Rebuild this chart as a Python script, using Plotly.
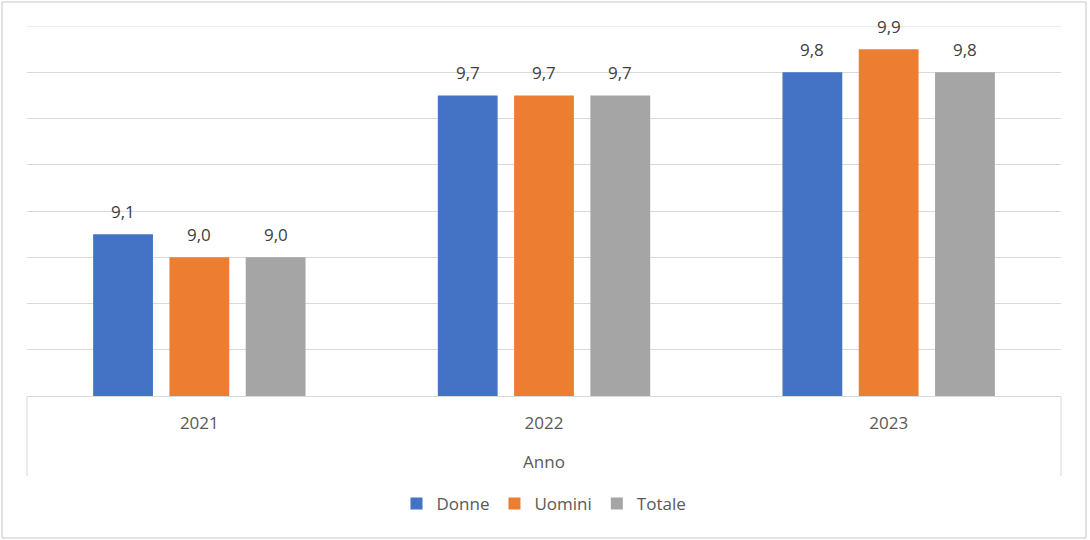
import plotly.graph_objects as go

categories = ["2021", "2022", "2023"]
donne = [9.1, 9.7, 9.8]
uomini = [9.0, 9.7, 9.9]
totale = [9.0, 9.7, 9.8]
series_names = ["Donne", "Uomini", "Totale"]
colors = ["#4472C4", "#ED7D31", "#A5A5A5"]
all_series = [donne, uomini, totale]
y_min, y_max = 8.4, 10.0

W, H = 1090, 540
ml, mr, mt, mb = 27, 29, 26, 144
pw = W - ml - mr
ph = H - mt - mb
bargap = 0.336
groupgap = 0.216
slot = (1 - bargap) / len(all_series)  # in category units

fig = go.Figure()
annotations = []
for i, (name, vals, col) in enumerate(zip(series_names, all_series, colors)):
    fig.add_trace(go.Bar(
        x=categories, y=vals, name=name, marker_color=col,
        marker_line_width=0,
    ))
    for j, v in enumerate(vals):
        annotations.append(dict(
            x=j + (i - 1) * slot, y=v, xref="x", yref="y",
            text=f"{v:.1f}".replace(".", ","),
            showarrow=False, yshift=23, yanchor="middle",
            font=dict(size=17, color="#404040"),
        ))


def px(x):
    return (x - ml) / pw


def py(y):
    return (H - mb - y) / ph


shapes = [
    dict(type="rect", xref="paper", yref="paper", x0=px(2), x1=px(1086), y0=py(538), y1=py(2),
         line=dict(color="#D9D9D9", width=1.5), fillcolor="rgba(0,0,0,0)", layer="below"),
    dict(type="line", xref="paper", yref="paper", x0=0, x1=0, y0=0, y1=py(476),
         line=dict(color="#D9D9D9", width=1)),
    dict(type="line", xref="paper", yref="paper", x0=1, x1=1, y0=0, y1=py(476),
         line=dict(color="#D9D9D9", width=1)),
    # top gridline (at the axis maximum)
    dict(type="line", xref="paper", yref="y", x0=0, x1=1, y0=y_max, y1=y_max,
         line=dict(color="#D9D9D9", width=1), layer="below"),
]

fig.update_layout(
    width=W, height=H,
    margin=dict(l=ml, r=mr, t=mt, b=mb),
    paper_bgcolor="white", plot_bgcolor="white",
    barmode="group", bargap=bargap, bargroupgap=groupgap,
    font=dict(family="Open Sans, Liberation Sans, sans-serif", size=17, color="#595959"),
    xaxis=dict(
        type="category", range=[-0.5, len(categories) - 0.5], autorange=False,
        showline=True, linecolor="#D9D9D9", linewidth=1,
        tickfont=dict(size=17, color="#595959"), ticks="", ticklabelstandoff=12,
        title=dict(text="Anno", font=dict(size=17, color="#595959"), standoff=22),
    ),
    yaxis=dict(
        range=[y_min, y_max], autorange=False, dtick=0.2, tick0=y_min, showticklabels=False,
        showgrid=True, gridcolor="#D9D9D9", gridwidth=1, zeroline=False,
    ),
    legend=dict(orientation="h", x=0.5, xanchor="center", y=py(504), yanchor="middle",
                font=dict(size=17, color="#595959"), itemwidth=30, traceorder="normal"),
    shapes=shapes,
    annotations=annotations,
)

fig.write_html("out.html", config={"displayModeBar": False},
               post_script="document.body.style.margin='0px';")
